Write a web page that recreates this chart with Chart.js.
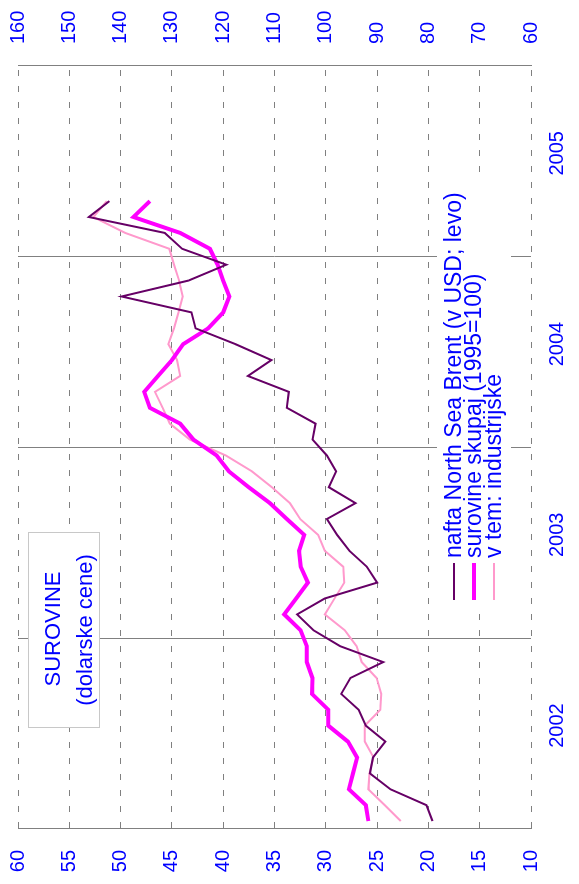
<!DOCTYPE html>
<html>
<head>
<meta charset="utf-8">
<script src="https://cdn.jsdelivr.net/npm/chart.js@4.4.1/dist/chart.umd.min.js"></script>
<style>
  html, body { margin: 0; padding: 0; background: #fff; overflow: hidden; }
  #wrap { position: absolute; left: 0; top: 0; width: 884px; height: 579px;
          transform-origin: 0 0; transform: translate(0, 884px) rotate(-90deg); }
</style>
</head>
<body>
<div id="wrap"><canvas id="surovine" width="884" height="579"></canvas></div>
<script>
// monthly values, Jan 2002 - Apr 2005
const startYear = 2002;
const yearLabels = ['2002', '2003', '2004', '2005'];
const brent = [19.6, 20.2, 23.7, 25.7, 25.4, 24.2, 26.1, 26.8, 28.5, 27.6, 24.4, 28.6,
               31.2, 32.8, 30.1, 25.0, 26.0, 27.7, 28.9, 29.9, 27.1, 29.7, 29.0, 29.9,
               31.3, 31.0, 33.8, 33.6, 37.6, 35.3, 38.8, 42.7, 43.1, 49.9, 43.4, 39.7,
               44.0, 45.7, 53.1, 51.1];
const surovine = [91.7, 92.2, 95.5, 94.7, 93.9, 95.7, 99.5, 99.5, 102.7, 102.6, 103.7, 103.7,
                  104.9, 108.1, 105.8, 103.5, 104.9, 105.2, 104.2, 107.6, 110.9, 115.0, 118.9, 121.3,
                  125.8, 128.4, 134.3, 135.4, 132.7, 130.0, 127.8, 122.9, 120.0, 118.8, 120.0, 121.1,
                  122.6, 128.4, 137.5, 134.3];
const industrijske = [85.4, 88.5, 91.7, 91.5, 90.7, 92.4, 92.4, 89.4, 89.2, 90.1, 93.0, 94.0,
                      96.3, 100.2, 98.3, 96.4, 96.6, 100.2, 101.5, 105.0, 107.0, 110.5, 114.4, 119.5,
                      126.5, 130.4, 131.8, 133.3, 128.4, 129.0, 130.7, 129.6, 128.7, 127.9, 128.6, 129.6,
                      130.5, 139.1, 145.3, 142.7];
const seriesNames = ['nafta North Sea Brent (v USD; levo)', 'surovine skupaj (1995=100)', 'v tem: industrijske'];
const titleLines = ['SUROVINE', '(dolarske cene)'];

const blue = '#0000ff';
const gray = '#808080';
const font = '"Liberation Sans", Arial, sans-serif';

const monthly = arr => arr.map((v, i) => ({ x: i + 0.5, y: v }));

const boxes = {
  id: 'boxes',
  afterDatasetsDraw(chart) {
    const ctx = chart.ctx;
    ctx.save();
    // title box
    ctx.fillStyle = '#fff';
    ctx.fillRect(156, 28, 195, 71);
    ctx.strokeStyle = '#c8c8c8';
    ctx.lineWidth = 1;
    ctx.strokeRect(156.5, 28.5, 195, 71);
    ctx.fillStyle = blue;
    ctx.font = '22px ' + font;
    ctx.textAlign = 'center';
    ctx.textBaseline = 'middle';
    ctx.fillText(titleLines[0], 255, 54);
    ctx.fillText(titleLines[1], 254, 86);
    // legend
    ctx.fillStyle = '#fff';
    ctx.fillRect(270, 437, 440, 74);
    ctx.font = '23px ' + font;
    ctx.textAlign = 'left';
    const ys = [454, 474, 494];
    chart.data.datasets.forEach((ds, k) => {
      ctx.strokeStyle = ds.borderColor;
      ctx.lineWidth = ds.borderWidth;
      ctx.beginPath();
      ctx.moveTo(284, ys[k]);
      ctx.lineTo(321, ys[k]);
      ctx.stroke();
      ctx.fillStyle = blue;
      ctx.fillText(ds.label, 326, ys[k] + 1);
    });
    ctx.restore();
  }
};

const noPad = s => { s.paddingTop = 0; s.paddingBottom = 0; };

new Chart(document.getElementById('surovine'), {
  type: 'line',
  data: {
    datasets: [
      { label: seriesNames[0], data: monthly(brent), yAxisID: 'y',
        borderColor: '#660066', borderWidth: 2 },
      { label: seriesNames[1], data: monthly(surovine), yAxisID: 'y2',
        borderColor: '#ff00ff', borderWidth: 4 },
      { label: seriesNames[2], data: monthly(industrijske), yAxisID: 'y2',
        borderColor: '#ff99cc', borderWidth: 2 }
    ]
  },
  options: {
    responsive: false,
    animation: false,
    devicePixelRatio: 1,
    layout: { padding: { top: 18, left: 0, right: 0, bottom: 0 } },
    elements: { point: { radius: 0 }, line: { tension: 0 } },
    plugins: { legend: { display: false }, tooltip: { enabled: false } },
    scales: {
      x: {
        type: 'linear', min: 0, max: 48,
        afterFit: s => { s.height = 48; s.paddingLeft = 0; s.paddingRight = 0; },
        border: { display: false },
        grid: {
          drawTicks: false,
          color: c => (c.tick && c.tick.value % 12 === 0) ? gray : 'rgba(0,0,0,0)'
        },
        ticks: {
          stepSize: 6, autoSkip: false, maxRotation: 0, padding: 14, labelOffset: 8,
          color: blue, font: { family: font, size: 20 },
          callback: v => (v % 12 === 6) ? yearLabels[(v - 6) / 12] : ''
        }
      },
      y: {
        position: 'left', min: 10, max: 60,
        afterFit: s => { s.width = 55; noPad(s); },
        border: { display: true, color: gray, width: 1, dash: [6, 10] },
        grid: { drawTicks: false, color: gray, lineWidth: 1 },
        ticks: { stepSize: 5, padding: 21, color: blue, font: { family: font, size: 20 } }
      },
      y2: {
        position: 'right', min: 60, max: 160,
        afterFit: s => { s.width = 66; noPad(s); },
        border: { display: true, color: gray, width: 1 },
        grid: { display: false, drawTicks: false },
        ticks: { stepSize: 10, padding: 22, color: blue, font: { family: font, size: 20 } }
      }
    }
  },
  plugins: [boxes]
});
</script>
</body>
</html>
